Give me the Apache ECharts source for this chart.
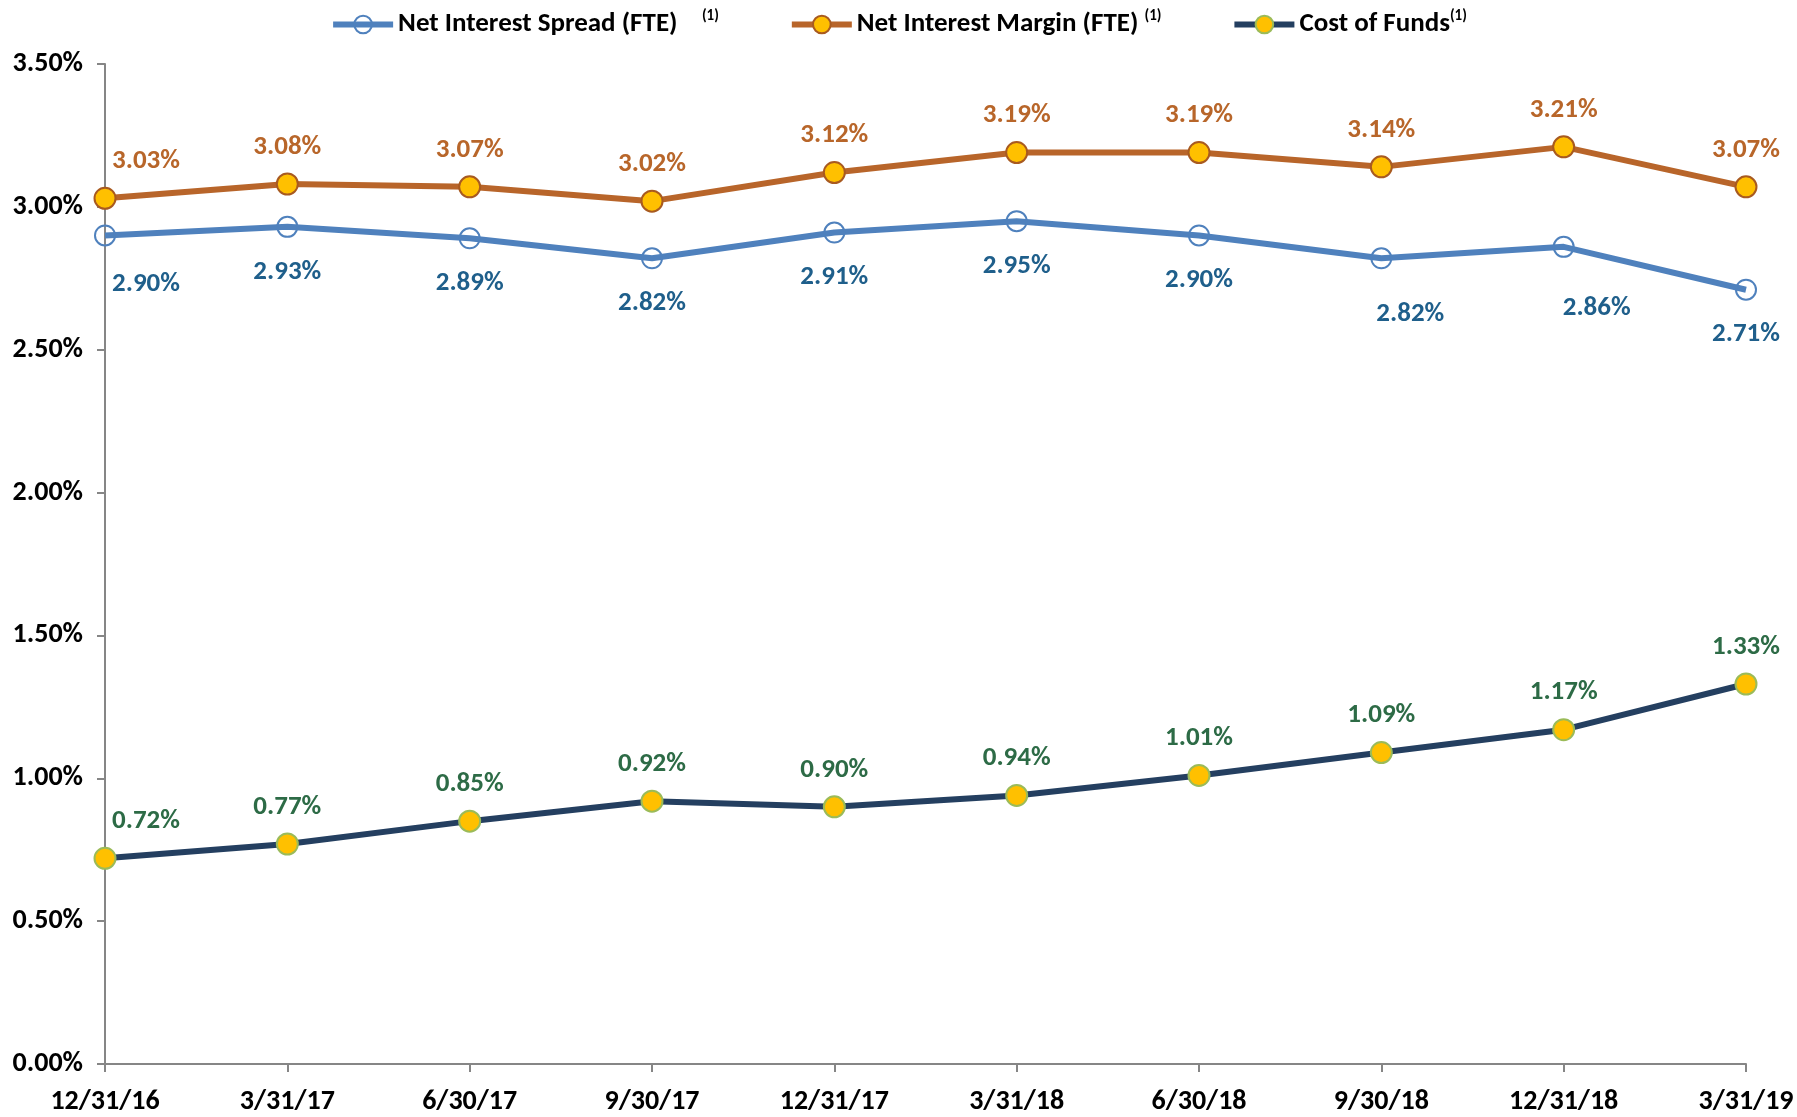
<!DOCTYPE html>
<html>
<head>
<meta charset="utf-8">
<script src="https://cdn.jsdelivr.net/npm/echarts@6/dist/echarts.min.js"></script>
<style>
  html, body { margin: 0; padding: 0; background: #ffffff; }
  #chart { width: 1797px; height: 1117px; }
</style>
</head>
<body>
<div id="chart"></div>
<script>
const FONT = "Carlito, 'Liberation Sans Narrow', 'DejaVu Sans Condensed', 'Open Sans', sans-serif";

const quarters = ['12/31/16', '3/31/17', '6/30/17', '9/30/17', '12/31/17', '3/31/18', '6/30/18', '9/30/18', '12/31/18', '3/31/19'];
const spread = [2.90, 2.93, 2.89, 2.82, 2.91, 2.95, 2.90, 2.82, 2.86, 2.71];
const margin = [3.03, 3.08, 3.07, 3.02, 3.12, 3.19, 3.19, 3.14, 3.21, 3.07];
const costOfFunds = [0.72, 0.77, 0.85, 0.92, 0.90, 0.94, 1.01, 1.09, 1.17, 1.33];
const yTicks = [0, 0.5, 1.0, 1.5, 2.0, 2.5, 3.0, 3.5];

// label nudges (excel hand-moved a few)
const spreadNudge = { 0: [41, 49], 7: [29, 56], 8: [33, 61] };
const firstNudge = 41;

const chart = echarts.init(document.getElementById('chart'));

function withLabels(values, dy, nudge) {
  return values.map((v, i) => {
    let off = [0, dy];
    if (nudge && nudge[i]) off = nudge[i];
    else if (i === 0) off = [firstNudge, dy];
    return {
      value: v,
      label: { offset: off }
    };
  });
}

function labelStyle(color) {
  return {
    show: true,
    position: 'inside',
    color: color,
    fontFamily: FONT,
    fontWeight: 'bold',
    fontSize: 27,
    formatter: p => p.value.toFixed(2) + '%'
  };
}

const option = {
  backgroundColor: '#ffffff',
  animation: false,
  grid: { left: 105, right: 51, top: 64, bottom: 53, containLabel: false },
  legend: {
    top: 4,
    left: 'center',
    itemWidth: 60,
    itemHeight: 22,
    itemGap: 70,
    lineStyle: { width: 6 },
    textStyle: {
      fontFamily: FONT, fontWeight: 'bold', fontSize: 27, color: '#000000',
      rich: {
        sup: { fontFamily: FONT, fontWeight: 'bold', fontSize: 15, color: '#000000', verticalAlign: 'top', padding: [0, 0, 16, 0] }
      }
    },
    formatter: name => name === 'Net Interest Spread (FTE)' ? name + '    {sup|(1)}' : (name === 'Cost of Funds' ? name + '{sup|(1)}' : name + ' {sup|(1)}'),
    data: ['Net Interest Spread (FTE)', 'Net Interest Margin (FTE)', 'Cost of Funds']
  },
  xAxis: {
    type: 'category',
    data: quarters,
    boundaryGap: false,
    axisLine: { lineStyle: { color: '#868686', width: 2 } },
    axisTick: { show: true, length: 8, lineStyle: { color: '#868686', width: 2 } },
    axisLabel: { fontFamily: FONT, fontWeight: 'bold', fontSize: 28, color: '#000000', margin: 24 }
  },
  yAxis: {
    type: 'value',
    min: 0,
    max: 3.5,
    interval: 0.5,
    splitLine: { show: false },
    axisLine: { show: true, lineStyle: { color: '#868686', width: 2 } },
    axisTick: { show: true, length: 8, lineStyle: { color: '#868686', width: 2 } },
    axisLabel: {
      fontFamily: FONT, fontWeight: 'bold', fontSize: 28, color: '#000000', margin: 22,
      formatter: v => yTicks.indexOf(v) >= 0 ? v.toFixed(2) + '%' : ''
    }
  },
  series: [
    {
      name: 'Net Interest Spread (FTE)',
      type: 'line',
      data: withLabels(spread, 45, spreadNudge),
      symbol: 'circle',
      symbolSize: 20,
      lineStyle: { color: '#4F81BD', width: 6 },
      itemStyle: { color: 'rgba(255,255,255,0)', borderColor: '#4F81BD', borderWidth: 2 },
      label: labelStyle('#1F5F8B'),
      z: 2
    },
    {
      name: 'Net Interest Margin (FTE)',
      type: 'line',
      data: withLabels(margin, -37),
      symbol: 'circle',
      symbolSize: 21,
      lineStyle: { color: '#B8652A', width: 6 },
      itemStyle: { color: '#FFC000', borderColor: '#A85A20', borderWidth: 2 },
      label: labelStyle('#B8662A'),
      z: 3
    },
    {
      name: 'Cost of Funds',
      type: 'line',
      data: withLabels(costOfFunds, -37),
      symbol: 'circle',
      symbolSize: 21,
      lineStyle: { color: '#243F60', width: 6 },
      itemStyle: { color: '#FFC000', borderColor: '#9BBB59', borderWidth: 2 },
      label: labelStyle('#2D6B46'),
      z: 3
    }
  ]
};

chart.setOption(option);
</script>
</body>
</html>
